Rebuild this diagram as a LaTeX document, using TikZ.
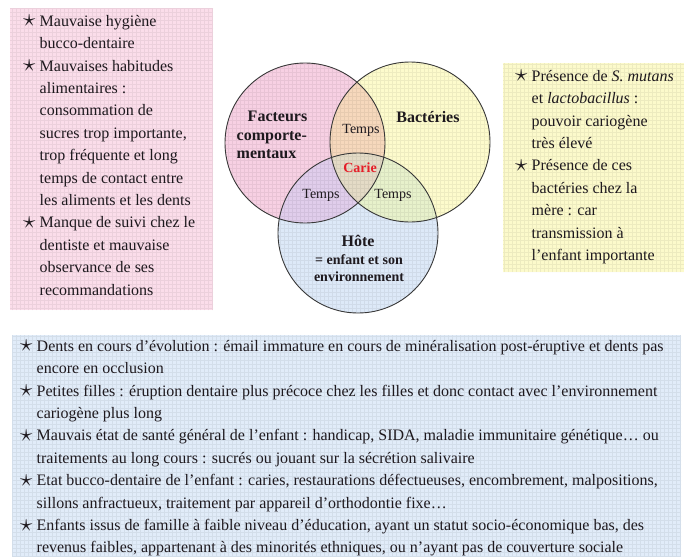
\documentclass[tikz,border=0pt]{standalone}
\usepackage{fontspec}
\setmainfont{Liberation Serif}
\definecolor{txt}{RGB}{30,25,30}
\definecolor{pinkC}{RGB}{247,208,227}
\definecolor{yellowC}{RGB}{253,251,204}
\definecolor{blueC}{RGB}{221,233,248}
\definecolor{pyC}{RGB}{246,216,188}
\definecolor{pbC}{RGB}{224,205,235}
\definecolor{ybC}{RGB}{231,241,203}
\definecolor{pybC}{RGB}{228,219,198}
\definecolor{pinkBox}{RGB}{251,221,234}
\definecolor{yellowBox}{RGB}{252,250,203}
\definecolor{blueBox}{RGB}{225,236,249}
\definecolor{cariered}{RGB}{228,30,40}
\newcommand\bul{\makebox[16.5pt][l]{\raisebox{-0.5pt}{\scalebox{1.45}{$\star$}}}}
\newcommand\ind{\hspace*{16.5pt}}
\tikzset{
  boxtext/.style={anchor=north west, inner sep=0pt, align=left, text=txt,
    font=\fontsize{16pt}{22.4pt}\selectfont},
  gridover/.style={draw=black, draw opacity=0.06, line width=0.4pt},
  circline/.style={draw=black!78, line width=0.9pt},
  biglabel/.style={text=txt, inner sep=0pt, font=\fontsize{16pt}{18.5pt}\selectfont\bfseries},
  tempslabel/.style={text=txt, inner sep=0pt, font=\fontsize{14pt}{16pt}\selectfont},
}
\begin{document}
\begin{tikzpicture}[x=1pt,y=-1pt]
\useasboundingbox (0,0) rectangle (685,557);
% boxes
\fill[pinkBox] (10,8) rectangle (213,310);
\fill[yellowBox] (503,63) rectangle (684,272);
\fill[blueBox] (12,335) rectangle (681,557);
\begin{scope}
  \clip (10,8) rectangle (213,310) (503,63) rectangle (684,272) (12,335) rectangle (681,557);
  \draw[gridover, step=4pt] (0,0) grid (685,557);
\end{scope}
% venn
\coordinate (L) at (305,143);
\coordinate (R) at (410,142);
\coordinate (B) at (358,233);
\fill[pinkC] (L) circle[radius=80pt];
\fill[yellowC] (R) circle[radius=80pt];
\fill[blueC] (B) circle[radius=80pt];
\begin{scope}
  \clip (L) circle[radius=80pt];
  \fill[pyC] (R) circle[radius=80pt];
  \fill[pbC] (B) circle[radius=80pt];
\end{scope}
\begin{scope}
  \clip (R) circle[radius=80pt];
  \fill[ybC] (B) circle[radius=80pt];
\end{scope}
\begin{scope}
  \clip (L) circle[radius=80pt];
  \clip (R) circle[radius=80pt];
  \fill[pybC] (B) circle[radius=80pt];
\end{scope}
\begin{scope}
  \clip (L) circle[radius=80pt] (R) circle[radius=80pt] (B) circle[radius=80pt];
  \draw[gridover, step=4pt] (200,40) grid (520,330);
\end{scope}
\draw[circline] (L) circle[radius=80pt];
\draw[circline] (R) circle[radius=80pt];
\draw[circline] (B) circle[radius=80pt];
% venn labels
\node[biglabel, align=left] (fact) at (272,135) {\hspace*{11pt}Facteurs\\comporte-\\mentaux};
\node[biglabel] (bact) at (428,117) {Bactéries};
\node[tempslabel] (t1) at (361,130) {Temps};
\node[tempslabel] (t2) at (321,195) {Temps};
\node[tempslabel] (t3) at (393,195) {Temps};
\node[text=cariered, inner sep=0pt, font=\fontsize{14pt}{16pt}\selectfont\bfseries] (carie) at (360,168) {Carie};
\node[biglabel] (hote) at (358,241) {Hôte};
\node[biglabel, align=center, font=\fontsize{14pt}{17pt}\selectfont\bfseries] (hote2) at (359,268.5) {= enfant et son\\environnement};
% box texts
\node[boxtext] (pinktext) at (23,15) {%
\bul Mauvaise hygiène\\
\ind bucco-dentaire\\
\bul Mauvaises habitudes\\
\ind alimentaires :\\
\ind consommation de\\
\ind sucres trop importante,\\
\ind trop fréquente et long\\
\ind temps de contact entre\\
\ind les aliments et les dents\\
\bul Manque de suivi chez le\\
\ind dentiste et mauvaise\\
\ind observance de ses\\
\ind recommandations};
\node[boxtext] (yellowtext) at (515,70) {%
\bul Présence de \textit{S. mutans}\\
\ind et \textit{lactobacillus} :\\
\ind pouvoir cariogène\\
\ind très élevé\\
\bul Présence de ces\\
\ind bactéries chez la\\
\ind mère : car\\
\ind transmission à\\
\ind l’enfant importante};
\node[boxtext] (bluetext) at (20,340) {%
\bul Dents en cours d’évolution : émail immature en cours de minéralisation post-éruptive et dents pas\\
\ind encore en occlusion\\
\bul Petites filles : éruption dentaire plus précoce chez les filles et donc contact avec l’environnement\\
\ind cariogène plus long\\
\bul Mauvais état de santé général de l’enfant : handicap, SIDA, maladie immunitaire génétique… ou\\
\ind traitements au long cours : sucrés ou jouant sur la sécrétion salivaire\\
\bul Etat bucco-dentaire de l’enfant : caries, restaurations défectueuses, encombrement, malpositions,\\
\ind sillons anfractueux, traitement par appareil d’orthodontie fixe…\\
\bul Enfants issus de famille à faible niveau d’éducation, ayant un statut socio-économique bas, des\\
\ind revenus faibles, appartenant à des minorités ethniques, ou n’ayant pas de couverture sociale};
\end{tikzpicture}
\end{document}
